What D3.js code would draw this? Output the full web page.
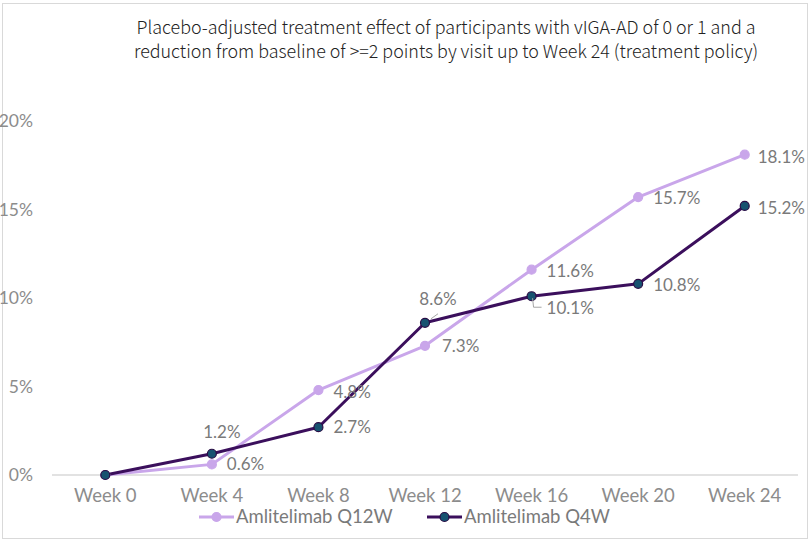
<!DOCTYPE html>
<html>
<head>
<meta charset="utf-8">
<script src="https://cdn.jsdelivr.net/npm/d3@7"></script>
<style>
  body { margin: 0; background: #fff; }
  svg { display: block; }
</style>
</head>
<body>
<svg id="chart"></svg>
<script>
const weeks = ["Week 0", "Week 4", "Week 8", "Week 12", "Week 16", "Week 20", "Week 24"];
const q12w = [0, 0.6, 4.8, 7.3, 11.6, 15.7, 18.1];
const q4w = [0, 1.2, 2.7, 8.6, 10.1, 10.8, 15.2];
const yTicks = [0, 5, 10, 15, 20];
const titleLines = [
    "Placebo-adjusted treatment effect of participants with vIGA-AD of 0 or 1 and a",
    "reduction from baseline of >=2 points by visit up to Week 24 (treatment policy)"
];

const W = 810, H = 542;
const margin = { top: 121, right: 12, bottom: 67, left: 52 };

const svg = d3.select("#chart").attr("width", W).attr("height", H);

// frame
svg.append("rect")
    .attr("x", 2.5).attr("y", 3.5)
    .attr("width", W - 5).attr("height", H - 7)
    .attr("fill", "#fff").attr("stroke", "#d9d9d9");

const x = d3.scaleBand().domain(weeks).range([margin.left, W - margin.right]);
const y = d3.scaleLinear().domain([0, 20]).range([H - margin.bottom, margin.top]);
const cx = d => x(d) + x.bandwidth() / 2;

svg.append("g")
    .selectAll("text")
    .data(titleLines)
    .join("text")
    .attr("x", 446)
    .attr("y", (d, i) => 34 + i * 24)
    .attr("text-anchor", "middle")
    .style("font-family", "'Noto Sans CJK SC', 'Noto Sans', sans-serif")
    .style("font-size", "17.9px")
    .style("font-weight", 300)
    .style("fill", "#222")
    .text(d => d);

// axis line at 0
svg.append("line")
    .attr("x1", margin.left).attr("x2", W - margin.right)
    .attr("y1", y(0)).attr("y2", y(0))
    .attr("stroke", "#d9d9d9").attr("stroke-width", 1.5);

const yAxis = svg.append("g")
    .attr("transform", `translate(${margin.left - 16},0)`)
    .call(d3.axisLeft(y).tickValues(yTicks).tickSize(0).tickFormat(d => d + "%"));
yAxis.select(".domain").remove();
yAxis.selectAll("text")
    .style("font-family", "Lato, sans-serif")
    .style("font-size", "17.5px")
    .style("fill", "#8c8c8c");

const xAxis = svg.append("g")
    .attr("transform", `translate(0,${y(0) + 11})`)
    .call(d3.axisBottom(x).tickSize(0));
xAxis.select(".domain").remove();
xAxis.selectAll("text")
    .style("font-family", "Lato, sans-serif")
    .style("font-size", "18.5px")
    .style("fill", "#8c8c8c");

const series = [
    { name: "Amlitelimab Q12W", values: q12w, stroke: "#c9a6ea", fill: "#c9a6ea", mstroke: "#c9a6ea" },
    { name: "Amlitelimab Q4W", values: q4w, stroke: "#3b0f5c", fill: "#175270", mstroke: "#2a0d45" }
];

const line = d3.line()
    .x((d, i) => cx(weeks[i]))
    .y(d => y(d));

series.forEach(s => {
    svg.append("path")
        .datum(s.values)
        .attr("fill", "none")
        .attr("stroke", s.stroke)
        .attr("stroke-width", 3)
        .attr("stroke-linejoin", "round")
        .attr("d", line);
});

series.forEach(s => {
    svg.append("g")
        .selectAll("circle")
        .data(s.values)
        .join("circle")
        .attr("cx", (d, i) => cx(weeks[i]))
        .attr("cy", d => y(d))
        .attr("r", 4.5)
        .attr("fill", s.fill)
        .attr("stroke", s.mstroke)
        .attr("stroke-width", 1.2);
});

// label placement: [dx, dy, anchor] per point, null = no label
const q12wPlace = [null, [15, 0, "start"], [15, 2, "start"], [17, 0, "start"], [15, 1, "start"], [15, 1, "start"], [13, 2, "start"]];
const q4wPlace = [null, [10, -22, "middle"], [15, 0, "start"], [13, -24, "middle"], [15, 12, "start"], [15, 1, "start"], [13, 2, "start"]];

function labels(values, place) {
    svg.append("g")
        .selectAll("text")
        .data(values.map((v, i) => ({ v, i, p: place[i] })).filter(d => d.p))
        .join("text")
        .attr("x", d => cx(weeks[d.i]) + d.p[0])
        .attr("y", d => y(d.v) + d.p[1])
        .attr("dy", "0.35em")
        .attr("text-anchor", d => d.p[2])
        .style("font-family", "Lato, sans-serif")
        .style("font-size", "17px")
        .style("fill", "#7a7a7a")
        .text(d => d.v.toFixed(1) + "%");
}
labels(q12w, q12wPlace);
labels(q4w, q4wPlace);

// leader for 10.1%
const px = cx(weeks[4]), py = y(q4w[4]);
svg.append("path")
    .attr("d", `M${px + 1},${py + 2} L${px + 2},${py + 11} L${px + 10},${py + 11}`)
    .attr("fill", "none").attr("stroke", "#a6a6a6").attr("stroke-width", 1);
// leader for 8.6%
const qx = cx(weeks[3]), qy = y(q4w[3]);
svg.append("line")
    .attr("x1", qx + 6).attr("y1", qy - 4)
    .attr("x2", qx + 13).attr("y2", qy - 9)
    .attr("stroke", "#a6a6a6").attr("stroke-width", 1);

// legend
const legend = svg.append("g").attr("transform", `translate(0,517)`);
const legX = [199, 427];
series.forEach((s, i) => {
    const g = legend.append("g").attr("transform", `translate(${legX[i]},0)`);
    g.append("line").attr("x1", 0).attr("x2", 35)
        .attr("stroke", s.stroke).attr("stroke-width", 3);
    g.append("circle").attr("cx", 17.5).attr("r", 4.5)
        .attr("fill", s.fill).attr("stroke", s.mstroke).attr("stroke-width", 1.2);
    g.append("text").attr("x", 37).attr("dy", "0.35em")
        .style("font-family", "Lato, sans-serif")
        .style("font-size", "18.5px")
        .style("fill", "#7a7a7a")
        .text(s.name);
});
</script>
</body>
</html>
